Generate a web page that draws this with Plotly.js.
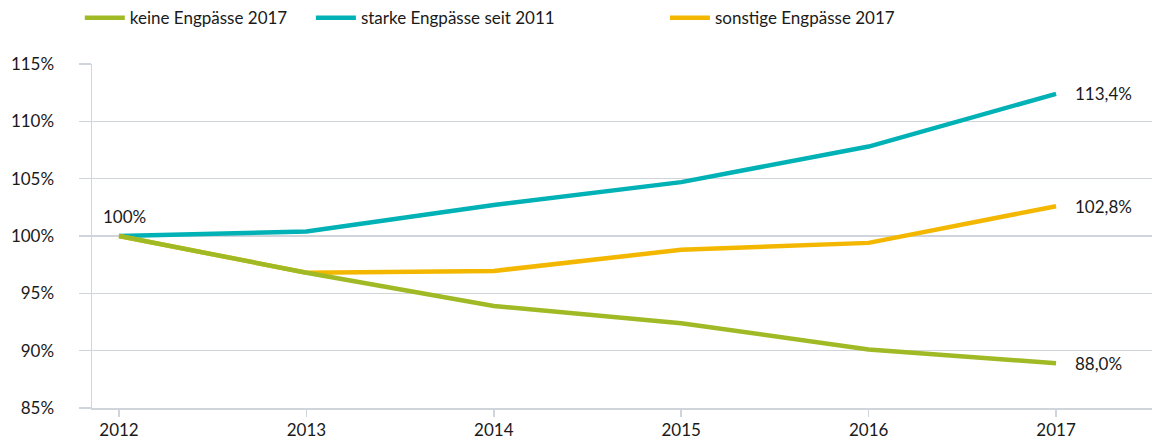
<!DOCTYPE html>
<html>
<head>
<meta charset="utf-8">
<script src="https://cdn.plot.ly/plotly-3.0.1.min.js"></script>
<style>html,body{margin:0;padding:0;background:#fff;}#chart{width:1152px;height:441px;}</style>
</head>
<body>
<div id="chart"></div>
<script>
const years = [2012, 2013, 2014, 2015, 2016, 2017];
const seriesNames = ["keine Engpässe 2017", "starke Engpässe seit 2011", "sonstige Engpässe 2017"];
const keineEngpaesse = [100, 96.8, 93.9, 92.4, 90.1, 88.9];
const starkeEngpaesse = [100, 100.4, 102.7, 104.7, 107.8, 112.4];
const sonstigeEngpaesse = [100, 96.8, 96.95, 98.8, 99.4, 102.6];
const endLabels = ["88,0%", "113,4%", "102,8%"];
const startLabel = "100%";
const yTickVals = [85, 90, 95, 100, 105, 110, 115];
const yTickText = ["85%", "90%", "95%", "100%", "105%", "110%", "115%"];
const colors = ["#9fba24", "#00b1b6", "#f4b700"];

const values = [keineEngpaesse, starkeEngpaesse, sonstigeEngpaesse];
const font = "Lato, sans-serif";
const fs = 17;
const legendIds = ["legend", "legend2", "legend3"];
const legendX = [-0.0115, 0.2065, 0.5405];
const drawOrder = [1, 2, 0];
const traces = drawOrder.map(i => ({
  x: years, y: values[i], name: seriesNames[i], type: "scatter", mode: "lines",
  line: {color: colors[i], width: 4.5}, hoverinfo: "skip", legend: legendIds[i]
}));

const annotations = values.map((v, i) => ({
  x: years[years.length - 1], y: v[v.length - 1], xref: "x", yref: "y",
  text: endLabels[i], showarrow: false, xanchor: "left", yanchor: "middle",
  xshift: 17, font: {family: font, size: fs, color: "#1a1a1a"}
}));
annotations.push({
  x: years[0], y: keineEngpaesse[0], xref: "x", yref: "y", text: startLabel,
  showarrow: false, xanchor: "center", yanchor: "bottom", yshift: 7,
  xshift: 6, font: {family: font, size: fs, color: "#1a1a1a"}
});

const grid = "#cfd5da";
const layout = {
  width: 1152, height: 441,
  margin: {l: 92, r: 0, t: 64, b: 33, autoexpand: false},
  paper_bgcolor: "#fff", plot_bgcolor: "#fff",
  font: {family: font, size: fs, color: "#1a1a1a"},
  showlegend: true,
  xaxis: {range: [2011.856, 2017.512], tickvals: years, ticktext: years.map(String),
          showgrid: false, zeroline: false, showline: true, linecolor: grid, linewidth: 2,
          ticks: "outside", ticklen: 7, tickcolor: grid, tickwidth: 1.5,
          ticklabelstandoff: -1,
          tickfont: {family: font, size: fs, color: "#1a1a1a"}},
  yaxis: {range: [85, 115], tickvals: yTickVals, ticktext: yTickText,
          showgrid: true, gridcolor: grid, gridwidth: 1.5, zeroline: false,
          showline: true, linecolor: grid, linewidth: 1.5,
          ticks: "outside", ticklen: 12, tickcolor: grid, tickwidth: 1.5,
          ticklabelstandoff: 21,
          tickfont: {family: font, size: fs, color: "#1a1a1a"}},
  annotations: annotations
};
legendIds.forEach((id, i) => {
  layout[id] = {orientation: "h", x: legendX[i], xanchor: "left", xref: "paper",
                y: 0.959, yref: "container", yanchor: "middle", itemwidth: 40,
                bgcolor: "rgba(0,0,0,0)",
                font: {family: font, size: fs, color: "#1a1a1a"}};
});
Plotly.newPlot("chart", traces, layout, {displayModeBar: false, staticPlot: true});
</script>
</body>
</html>
